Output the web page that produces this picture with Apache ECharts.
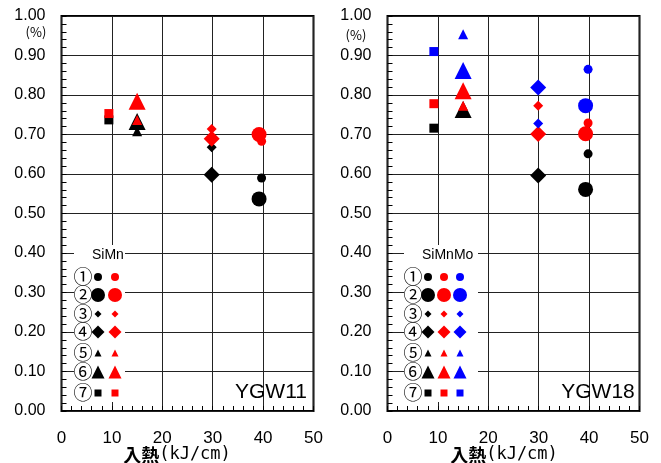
<!DOCTYPE html>
<html>
<head>
<meta charset="utf-8">
<script src="https://cdn.jsdelivr.net/npm/echarts@6/dist/echarts.min.js"></script>
<style>
html, body { margin: 0; padding: 0; background: #fff; }
#main { width: 661px; height: 463px; }
</style>
</head>
<body>
<div id="main"></div>
<script>
// 条件番号 ①〜⑦ とマーカー形状
var marks = ['①', '②', '③', '④', '⑤', '⑥', '⑦'];
var markSymbol = ['circle', 'circle', 'diamond', 'diamond', 'triangle', 'triangle', 'rect'];
var markSize = [9, 15, 10, 16, 10, 17, 9];
var keySize = [8, 14, 7, 13, 7, 13, 7];

// YGW11 (SiMn)
var ygw11X = [39.7, 39.2, 29.8, 29.8, 15, 15, 9.4];
var ygw11Black = [0.590, 0.537, 0.668, 0.598, 0.708, 0.733, 0.737];
var ygw11Red = [0.683, 0.700, 0.714, 0.689, 0.737, 0.784, 0.753];

// YGW18 (SiMnMo)
var ygw18X = [39.8, 39.3, 29.9, 29.9, 15, 15, 9.2];
var ygw18Black = [0.651, 0.561, null, 0.596, 0.765, 0.763, 0.716];
var ygw18Red = [0.729, 0.702, 0.773, 0.701, 0.773, 0.811, 0.778];
var ygw18Blue = [0.865, 0.773, 0.728, 0.819, 0.954, 0.862, 0.910];

var BLACK = '#000000', RED = '#ff0000', BLUE = '#0000ff';
var numFont = '"Liberation Sans", Arial, sans-serif';
var jpFont = '"Noto Sans CJK JP", sans-serif';

var chart = echarts.init(document.getElementById('main'));

function pts(xs, ys) {
    var out = [];
    for (var i = 0; i < ys.length; i++) {
        if (ys[i] == null) continue;
        out.push({ value: [xs[i], ys[i]], symbol: markSymbol[i], symbolSize: markSize[i] });
    }
    return out;
}

function scatter(idx, color, xs, ys) {
    return {
        type: 'scatter',
        xAxisIndex: idx,
        yAxisIndex: idx,
        itemStyle: { color: color, opacity: 1 },
        emphasis: { disabled: true },
        data: pts(xs, ys),
        z: 3
    };
}

function xAx(idx) {
    return {
        gridIndex: idx,
        type: 'value',
        min: 0, max: 50, interval: 10,
        axisLine: { show: false },
        axisTick: { show: true, inside: true, length: 5, lineStyle: { color: '#000' } },
        minorTick: { show: true, splitNumber: 5, length: 5, lineStyle: { color: '#000' } },
        axisLabel: { margin: 19, fontFamily: numFont, fontSize: 17, color: '#000' },
        splitLine: { show: true, lineStyle: { color: '#222', width: 1 } }
    };
}

function yAx(idx) {
    return {
        gridIndex: idx,
        type: 'value',
        min: 0, max: 1, interval: 0.1,
        axisLine: { show: false },
        axisTick: { show: true, inside: true, length: 5, lineStyle: { color: '#000' } },
        minorTick: { show: true, splitNumber: 5, length: 5, lineStyle: { color: '#000' } },
        axisLabel: {
            margin: 16, fontFamily: numFont, fontSize: 16, color: '#000',
            formatter: function (v) { return v.toFixed(2); }
        },
        splitLine: { show: true, lineStyle: { color: '#222', width: 1 } }
    };
}

// 凡例用の記号
function keyShape(sym, cx, cy, s, color) {
    var h = s / 2;
    if (sym === 'circle') {
        return { type: 'circle', shape: { cx: cx, cy: cy, r: h }, style: { fill: color }, z: 12 };
    }
    if (sym === 'rect') {
        return { type: 'rect', shape: { x: cx - h, y: cy - h, width: s, height: s }, style: { fill: color }, z: 12 };
    }
    var p;
    if (sym === 'diamond') p = [[cx, cy - h], [cx + h, cy], [cx, cy + h], [cx - h, cy]];
    else p = [[cx, cy - h], [cx + h, cy + h], [cx - h, cy + h]];
    return { type: 'polygon', shape: { points: p }, style: { fill: color }, z: 12 };
}

function txt(t, x, y, size, font, align) {
    return {
        type: 'text', x: x, y: y, z: 13,
        style: {
            text: t, fill: '#000', fontSize: size, fontFamily: font,
            align: align || 'center', verticalAlign: 'middle',
            textAlign: align || 'center', textVerticalAlign: 'middle'
        }
    };
}

// 横軸タイトル
function axisName(x) {
    return {
        type: 'text', x: x, y: 455, z: 13,
        style: {
            text: '{a|入熱}{b|(kJ/cm)}',
            align: 'center', verticalAlign: 'middle',
            textAlign: 'center', textVerticalAlign: 'middle',
            rich: {
                a: { fontFamily: jpFont, fontSize: 18, fontWeight: 'bold', fill: '#000', color: '#000' },
                b: { fontFamily: '"DejaVu Sans Mono", ' + jpFont, fontSize: 17, fill: '#000', color: '#000' }
            }
        }
    };
}

var rowY = [277, 295, 314, 332, 353, 372, 393];

function legendBlock(title, x0, colX, colors, box) {
    var g = [];
    g.push({ type: 'rect', shape: box, style: { fill: '#fff' }, z: 10 });
    g.push(txt(title, colX[0] - 6, 255, 14, numFont, 'left'));
    for (var i = 0; i < marks.length; i++) {
        g.push(txt(marks[i], x0, rowY[i], 19, jpFont));
        for (var c = 0; c < colors.length; c++) {
            g.push(keyShape(markSymbol[i], colX[c], rowY[i], keySize[i], colors[c]));
        }
    }
    return g;
}

var graphics = []
    .concat(legendBlock('SiMn', 83, [98, 115], [BLACK, RED], { x: 74, y: 245, width: 51, height: 157 }))
    .concat(legendBlock('SiMnMo', 413, [428, 444, 460], [BLACK, RED, BLUE], { x: 404, y: 245, width: 74, height: 157 }))
    .concat([
        txt('YGW11', 271, 392, 21, numFont),
        txt('YGW18', 598, 392, 21, numFont),
        txt('(%)', 36, 32, 13, jpFont),
        txt('(%)', 356, 35, 13, jpFont),
        axisName(177),
        axisName(504)
    ]);

var option = {
    backgroundColor: '#fff',
    animation: false,
    grid: [
        { left: 61.5, top: 16, width: 252, height: 395, outerBoundsMode: 'none', show: true, borderColor: '#000', borderWidth: 2, backgroundColor: 'transparent' },
        { left: 387.5, top: 16, width: 252, height: 395, outerBoundsMode: 'none', show: true, borderColor: '#000', borderWidth: 2, backgroundColor: 'transparent' }
    ],
    xAxis: [xAx(0), xAx(1)],
    yAxis: [yAx(0), yAx(1)],
    series: [
        scatter(0, BLACK, ygw11X, ygw11Black),
        scatter(0, RED, ygw11X, ygw11Red),
        scatter(1, BLACK, ygw18X, ygw18Black),
        scatter(1, RED, ygw18X, ygw18Red),
        scatter(1, BLUE, ygw18X, ygw18Blue)
    ],
    graphic: graphics
};

chart.setOption(option);
</script>
</body>
</html>
